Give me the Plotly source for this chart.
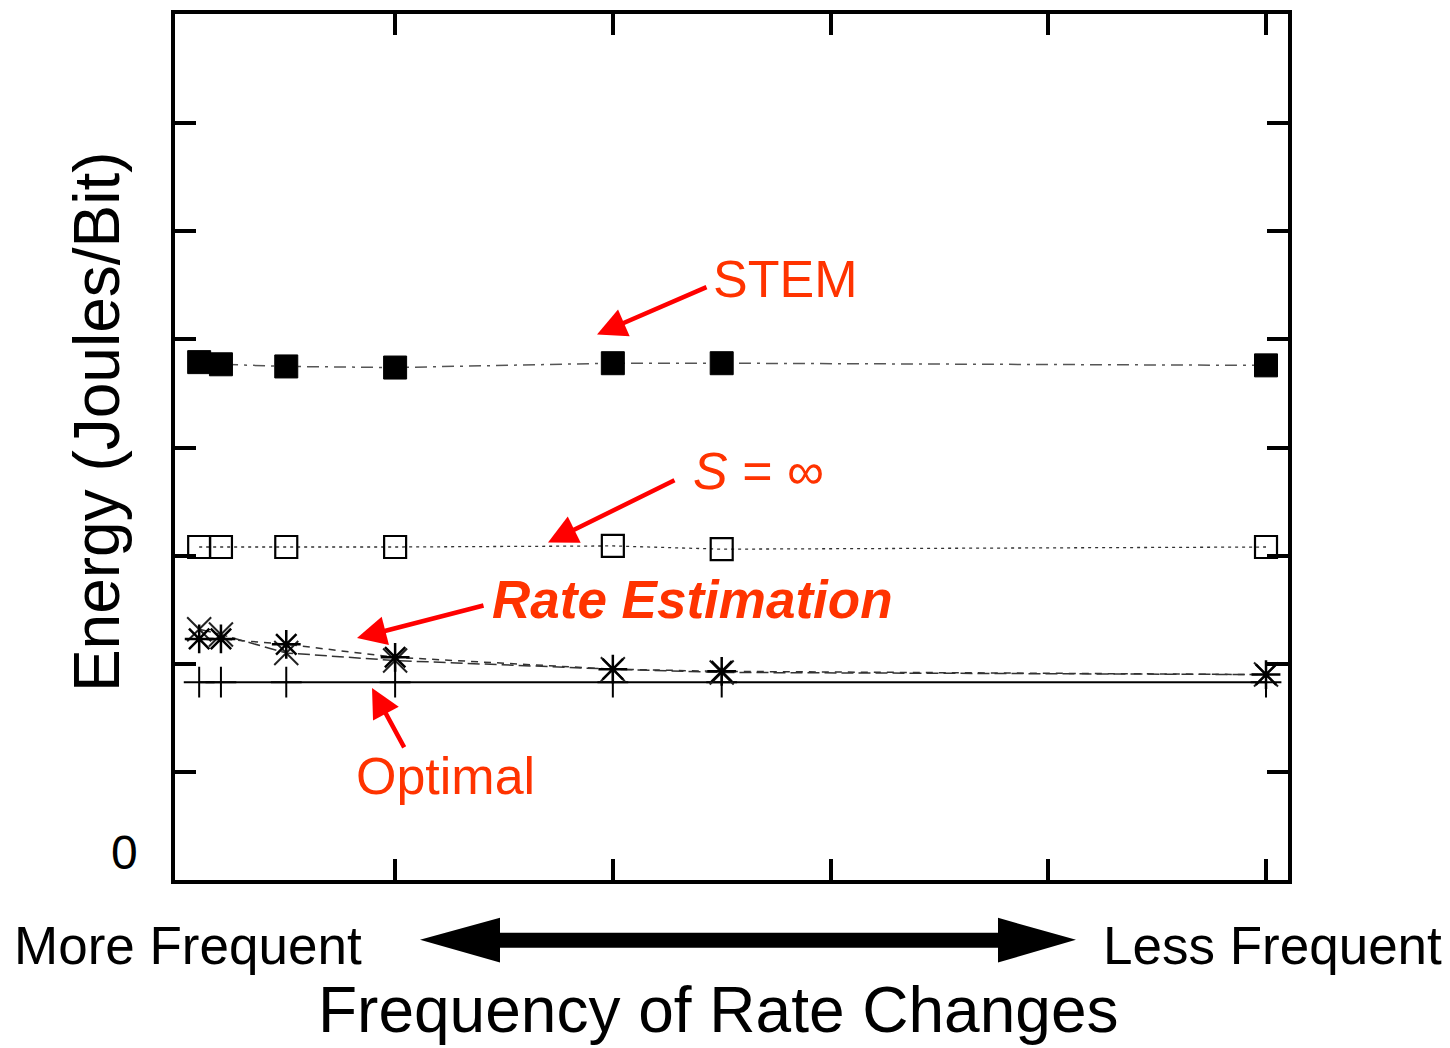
import plotly.graph_objects as go

# ---- data ----
x_vals = [0.1, 0.2, 0.5, 1, 2, 2.5, 5]
stem = [4.79, 4.77, 4.75, 4.74, 4.78, 4.78, 4.76]
s_inf = [3.08, 3.08, 3.08, 3.08, 3.09, 3.06, 3.08]
rate_est_x = [2.32, 2.27, 2.10, 2.03, 1.95, 1.92, 1.90]
rate_est_star = [2.23, 2.23, 2.18, 2.06, 1.95, 1.93, 1.90]
optimal = [1.83, 1.83, 1.83, 1.83, 1.83, 1.83, 1.83]
y_ticks = [1, 2, 3, 4, 5, 6, 7]
x_ticks = [1, 2, 3, 4, 5]

W, H = 1450, 1048
L, R, T, B = 175, 1288, 10, 880
FONT = "Liberation Sans, Arial, sans-serif"
RED = "#ff0000"
TXT = "#ff3300"


def px(xp):
    return (xp - L) / (R - L)


def py(yp):
    return (B - yp) / (B - T)


fig = go.Figure()

fig.add_trace(go.Scatter(
    x=x_vals, y=optimal, mode="lines+markers",
    line=dict(color="black", width=2),
    marker=dict(symbol="cross-thin-open", size=22, color="black", line=dict(color="black", width=2)),
))
fig.add_trace(go.Scatter(
    x=x_vals, y=rate_est_x, mode="lines+markers",
    line=dict(color="#333333", width=1.5, dash="12px,5px"),
    marker=dict(symbol="x-thin-open", size=24, color="#222222", line=dict(color="#222222", width=2)),
))
fig.add_trace(go.Scatter(
    x=x_vals, y=rate_est_star, mode="lines+markers",
    line=dict(color="#333333", width=1.5, dash="7px,6px"),
    marker=dict(symbol="asterisk-open", size=24, color="black", line=dict(color="black", width=2.5)),
))
fig.add_trace(go.Scatter(
    x=x_vals, y=s_inf, mode="lines",
    line=dict(color="#333333", width=1.3, dash="3px,4px"),
))
fig.add_trace(go.Scatter(
    x=x_vals, y=s_inf, mode="markers",
    marker=dict(symbol="square", size=22, color="rgba(0,0,0,0)", line=dict(color="black", width=2.2)),
))
fig.add_trace(go.Scatter(
    x=x_vals, y=stem, mode="lines+markers",
    line=dict(color="#555555", width=1.5, dash="12px,6px,3px,6px"),
    marker=dict(symbol="square", size=23, color="black", line=dict(color="black", width=1)),
))

axis_common = dict(
    showgrid=False, zeroline=False, showline=True, linecolor="black", linewidth=4,
    mirror="allticks", ticks="inside", ticklen=21, tickwidth=4, tickcolor="black",
    showticklabels=False,
)
fig.update_xaxes(range=[-0.011, 5.101], tickvals=x_ticks, **axis_common)
fig.update_yaxes(range=[0, 8.01], tickvals=y_ticks, **axis_common)

annotations = []


def text(t, xc, yc, size, **kw):
    annotations.append(dict(
        text=t, x=px(xc), y=py(yc), xref="paper", yref="paper",
        xanchor="center", yanchor="middle", showarrow=False,
        font=dict(family=FONT, size=size, color=kw.pop("color", "black")), **kw))


def arrow(tail, tip):
    annotations.append(dict(
        text="", x=px(tip[0]), y=py(tip[1]), xref="paper", yref="paper",
        ax=tail[0] - tip[0], ay=tail[1] - tip[1], axref="pixel", ayref="pixel",
        showarrow=True, arrowhead=2, arrowsize=1.3, arrowwidth=4.5, arrowcolor=RED))


text("STEM", 785, 276, 52, color=TXT)
text("<i>S</i> = \u221e", 758, 469, 52, color=TXT)
text("<b><i>Rate Estimation</i></b>", 692, 598, 53, color=TXT)
text("Optimal", 445, 776, 52, color=TXT)
text("0", 124, 852, 48)
text("Energy (Joules/Bit)", 97, 420, 64, textangle=-90)
text("More Frequent", 188, 946, 53)
text("Less Frequent", 1272, 946, 53)
text("Frequency of Rate Changes", 718, 1011, 64)

arrow((708, 284), (597, 332))
arrow((676, 478), (548, 541))
arrow((485, 604), (357, 637))
arrow((405, 748), (372, 687))

# double arrow at the bottom
pts = [(420, 940), (500, 918), (500, 933), (998, 933), (998, 918), (1076, 940),
       (998, 963), (998, 948), (500, 948), (500, 963)]
path = "M " + " L ".join(f"{px(a):.5f},{py(b):.5f}" for a, b in pts) + " Z"
fig.add_shape(type="path", path=path, xref="paper", yref="paper",
              fillcolor="black", line=dict(color="black", width=0))

fig.update_layout(
    width=W, height=H, margin=dict(l=L, r=W - R, t=T, b=H - B),
    paper_bgcolor="white", plot_bgcolor="white", showlegend=False,
    annotations=annotations, font=dict(family=FONT),
)

fig.write_html("out.html")
